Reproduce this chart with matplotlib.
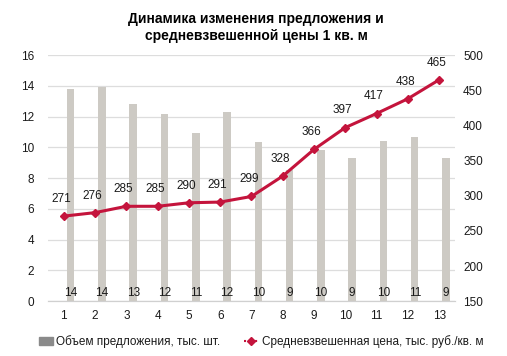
import matplotlib.pyplot as plt
from matplotlib.lines import Line2D
from matplotlib.patches import Patch

plt.rcParams['font.family'] = ['Liberation Sans', 'DejaVu Sans']

quarters = ['1', '2', '3', '4', '5', '6', '7', '8', '9', '10', '11', '12', '13']
volume = [13.8, 13.9, 12.8, 12.2, 10.95, 12.3, 10.35, 8.5, 9.85, 9.3, 10.45, 10.7, 9.3]
volume_labels = [14, 14, 13, 12, 11, 12, 10, 9, 10, 9, 10, 11, 9]
price = [271, 276, 285, 285, 290, 291, 299, 328, 366, 397, 417, 438, 465]

bar_color = '#CDCAC4'
line_color = '#C4143C'
text_color = '#1A1A1A'

fig = plt.figure(figsize=(5.07, 3.56), dpi=100)
ax = fig.add_axes([0.095, 0.154, 0.802, 0.691])
ax2 = ax.twinx()

x = list(range(len(quarters)))
ax.bar([i + 0.22 for i in x], volume, width=0.24, color=bar_color, zorder=2)
for i, v in zip(x, volume_labels):
    ax.annotate(str(v), (i + 0.22, 0), xytext=(0, 1.5), textcoords='offset points',
                ha='center', va='bottom', fontsize=8.5, color=text_color, zorder=3)

ax2.plot(x, price, color=line_color, lw=2.2, marker='D', ms=4.5, zorder=4)
for i, p in zip(x, price):
    ax2.annotate(str(p), (i, p), xytext=(-2, 8), textcoords='offset points',
                 ha='center', va='bottom', fontsize=8.5, color=text_color)

ax.set_xlim(-0.5, len(quarters) - 0.5)
ax.set_ylim(0, 16)
ax.set_yticks(range(0, 17, 2))
ax2.set_ylim(150, 500)
ax2.set_yticks(range(150, 501, 50))
ax.set_xticks(x)
ax.set_xticklabels(quarters)

ax.grid(axis='y', color='#DDDDDD', lw=0.9, zorder=0)
ax.set_axisbelow(True)
for a in (ax, ax2):
    for s in ('top', 'left', 'right'):
        a.spines[s].set_visible(False)
    a.spines['bottom'].set_color('#D0D0D0')
    a.tick_params(length=0, labelsize=8.5, colors=text_color)
ax.tick_params(axis='x', pad=6)
ax.tick_params(axis='y', pad=10)
ax2.tick_params(axis='y', pad=6)
ax2.set_zorder(ax.get_zorder() + 1)

fig.suptitle('Динамика изменения предложения и\nсредневзвешенной цены 1 кв. м',
             fontsize=10, fontweight='bold', x=0.505, y=0.965, color='black',
             linespacing=1.25)

handles = [Patch(color='#8A8A8A'),
           Line2D([], [], color=line_color, lw=1.5, ls=':', marker='D', ms=4)]
labels = ['Объем предложения, тыс. шт.', 'Средневзвешенная цена, тыс. руб./кв. м']
fig.legend(handles, labels, loc='center', bbox_to_anchor=(0.515, 0.04), ncol=2,
           frameon=False, fontsize=8.5, handlelength=1.2, handletextpad=0.3,
           columnspacing=2.0, labelcolor=text_color)

fig.savefig('out.png', dpi=100)
